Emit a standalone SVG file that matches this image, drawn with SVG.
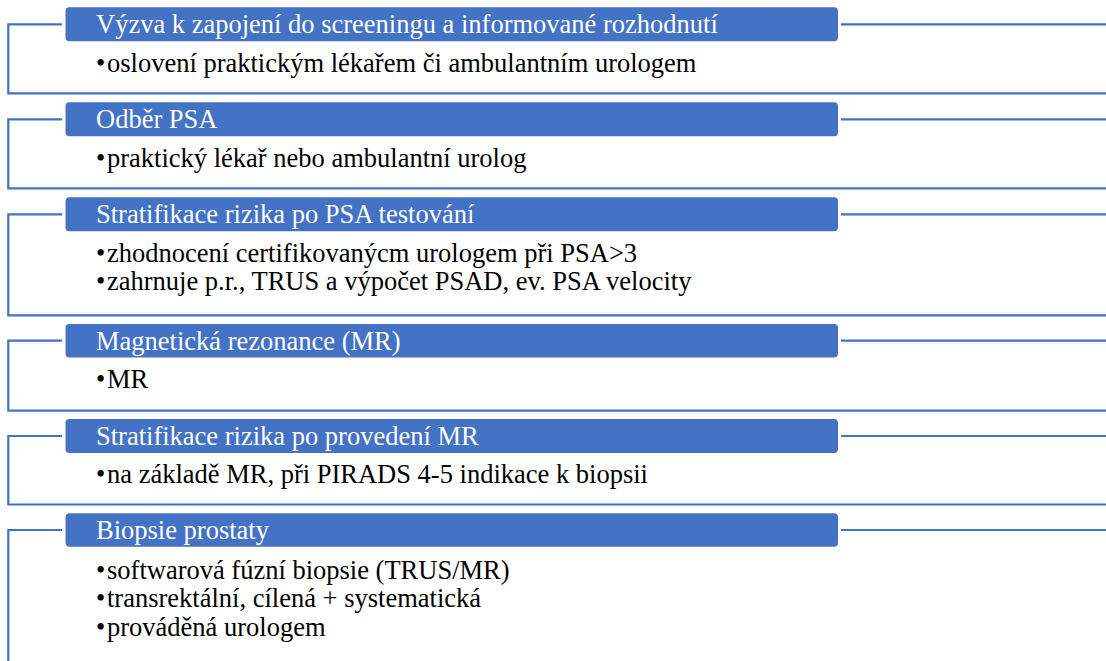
<svg xmlns="http://www.w3.org/2000/svg" width="1106" height="661" viewBox="0 0 1106 661">
<style>
.frame{fill:none;stroke:#4472C4;stroke-width:2.2}
.hdr{fill:#4472C4}
.ht{font-family:"Liberation Serif","Times New Roman",serif;font-size:26.5px;fill:#FFFFFF}
.bt{font-family:"Liberation Serif","Times New Roman",serif;font-size:26.5px;fill:#000000}
</style>
<rect x="0" y="0" width="1106" height="661" fill="#FFFFFF"/>
<g id="connectors">
<path class="frame" d="M62,24.3 H8.3 V93.3 H1110 M841,24.3 H1110"/>
<path class="frame" d="M62,119.3 H8.3 V188.3 H1110 M841,119.3 H1110"/>
<path class="frame" d="M62,214.3 H8.3 V315.3 H1110 M841,214.3 H1110"/>
<path class="frame" d="M62,340.7 H8.3 V410.7 H1110 M841,340.7 H1110"/>
<path class="frame" d="M62,436 H8.3 V504.5 H1110 M841,436 H1110"/>
<path class="frame" d="M62,530 H8.3 V670 M841,530 H1110"/>
</g>
<g id="step1">
<rect class="hdr" x="65.5" y="7.3" width="772.5" height="34" rx="4"/>
<text class="ht" x="96" y="33">Výzva k zapojení do screeningu a informované rozhodnutí</text>
<text class="bt" x="96" y="71.7">•</text><text class="bt" x="107" y="71.7">oslovení praktickým lékařem či ambulantním urologem</text>
</g>
<g id="step2">
<rect class="hdr" x="65.5" y="102.3" width="772.5" height="34" rx="4"/>
<text class="ht" x="96" y="128">Odběr PSA</text>
<text class="bt" x="96" y="166.7">•</text><text class="bt" x="107" y="166.7">praktický lékař nebo ambulantní urolog</text>
</g>
<g id="step3">
<rect class="hdr" x="65.5" y="197.3" width="772.5" height="34" rx="4"/>
<text class="ht" x="96" y="223">Stratifikace rizika po PSA testování</text>
<text class="bt" x="96" y="261.7">•</text><text class="bt" x="107" y="261.7">zhodnocení certifikovanýcm urologem při PSA&gt;3</text>
<text class="bt" x="96" y="290.4">•</text><text class="bt" x="107" y="290.4">zahrnuje p.r., TRUS a výpočet PSAD, ev. PSA velocity</text>
</g>
<g id="step4">
<rect class="hdr" x="65.5" y="324" width="772.5" height="33.5" rx="4"/>
<text class="ht" x="96" y="349.5">Magnetická rezonance (MR)</text>
<text class="bt" x="96" y="388.3">•</text><text class="bt" x="107" y="388.3">MR</text>
</g>
<g id="step5">
<rect class="hdr" x="65.5" y="419" width="772.5" height="34" rx="4"/>
<text class="ht" x="96" y="444.5">Stratifikace rizika po provedení MR</text>
<text class="bt" x="96" y="483.3">•</text><text class="bt" x="107" y="483.3">na základě MR, při PIRADS 4-5 indikace k biopsii</text>
</g>
<g id="step6">
<rect class="hdr" x="65.5" y="513.3" width="772.5" height="33.5" rx="4"/>
<text class="ht" x="96" y="538.8">Biopsie prostaty</text>
<text class="bt" x="96" y="578.5">•</text><text class="bt" x="107" y="578.5">softwarová fúzní biopsie (TRUS/MR)</text>
<text class="bt" x="96" y="607.3">•</text><text class="bt" x="107" y="607.3">transrektální, cílená + systematická</text>
<text class="bt" x="96" y="636">•</text><text class="bt" x="107" y="636">prováděná urologem</text>
</g>
</svg>
